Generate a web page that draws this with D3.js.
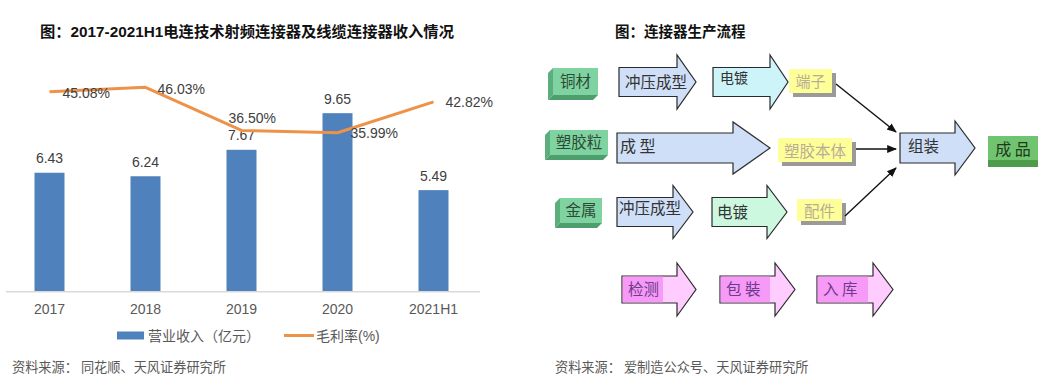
<!DOCTYPE html>
<html><head><meta charset="utf-8">
<script src="https://cdn.jsdelivr.net/npm/d3@7"></script>
<style>
html,body{margin:0;padding:0;background:#fff;}
svg{display:block;}
</style></head>
<body>
<svg id="c" width="1047" height="391"></svg>
<script>
// ---------- Data ----------
const categories = ['2017','2018','2019','2020','2021H1'];
const revenue = [6.43, 6.24, 7.67, 9.65, 5.49];
const margin = [45.08, 46.03, 36.50, 35.99, 42.82];
const marginLabels = ['45.08%','46.03%','36.50%','35.99%','42.82%'];
const legendLabels = ['营业收入（亿元）','毛利率(%)'];
const leftTitle = '图：2017-2021H1电连技术射频连接器及线缆连接器收入情况';
const leftSource = '资料来源：  同花顺、天风证券研究所';
const rightTitle = '图：连接器生产流程';
const rightSource = '资料来源：  爱制造公众号、天风证券研究所';
// flowchart labels
const rawMaterials = ['铜材','塑胶粒','金属'];
const stepRow1 = ['冲压成型','电镀'];
const stepRow2 = ['成 型'];
const stepRow3 = ['冲压成型','电镀'];
const parts = ['端子','塑胶本体','配件'];
const assembly = '组装';
const product = '成 品';
const finalSteps = ['检测','包 裝','入 库'];

const svg = d3.select('#c');
const FONT = '"Liberation Sans","Noto Sans CJK SC",Arial,sans-serif';
const CJK = '"Noto Sans CJK SC","Liberation Sans",sans-serif';

// ---------- Left chart ----------
const x = d3.scaleBand().domain(categories).range([1.5, 481.5]).paddingInner(1 - 30/96).paddingOuter((1 - 30/96)/2);
const yBar = d3.scaleLinear().domain([0, 12]).range([291.7, 69.7]);
const yLine = d3.scaleLinear().domain([0, 50]).range([295.4, 69.4]);
const cx = c => x(c) + x.bandwidth()/2;

svg.append('text').attr('x', 40).attr('y', 37).attr('font-family', FONT)
  .attr('font-weight', 'bold').attr('font-size', 15.3).attr('fill', '#111').text(leftTitle);

const g = svg.append('g');
g.selectAll('rect.bar').data(categories).join('rect').attr('class','bar')
  .attr('x', c => x(c)).attr('width', x.bandwidth())
  .attr('y', (c,i) => yBar(revenue[i])).attr('height', (c,i) => yBar(0) - yBar(revenue[i]))
  .attr('fill', '#4f81bd');

// axis
const xAxis = d3.axisBottom(x).tickSize(0).tickPadding(12);
const ax = g.append('g').attr('transform', `translate(0,${yBar(0)})`).call(xAxis);
ax.select('.domain').attr('d', `M6,0H480`).attr('stroke', '#d9d9d9').attr('stroke-width', 1.5);
ax.selectAll('text').attr('font-family', FONT).attr('font-size', 14).attr('fill', '#595959');

// bar labels
g.selectAll('text.bl').data(categories).join('text').attr('class','bl')
  .attr('x', c => cx(c)).attr('y', (c,i) => yBar(revenue[i]) - 9.5)
  .attr('text-anchor', 'middle').attr('font-family', FONT).attr('font-size', 14)
  .attr('fill', '#404040').text((c,i) => revenue[i].toFixed(2));

// line
const line = d3.line().x((d,i) => cx(categories[i])).y(d => yLine(d));
g.append('path').datum(margin).attr('d', line).attr('fill', 'none')
  .attr('stroke', '#ee9248').attr('stroke-width', 3).attr('stroke-linejoin', 'round');

const lineLabelOffsets = [[13,1.5],[12,1.7],[-13,-12.4],[13,0.6],[12,0.6]];
g.selectAll('text.ll').data(categories).join('text').attr('class','ll')
  .attr('x', (c,i) => cx(c) + lineLabelOffsets[i][0])
  .attr('y', (c,i) => yLine(margin[i]) + lineLabelOffsets[i][1])
  .attr('dy', '0.36em').attr('font-family', FONT).attr('font-size', 14)
  .attr('fill', '#404040').text((c,i) => marginLabels[i]);

// legend
const lg = svg.append('g');
lg.append('rect').attr('x', 117).attr('y', 331.5).attr('width', 27).attr('height', 8).attr('fill', '#4f81bd');
lg.append('text').attr('x', 148).attr('y', 335.5).attr('dy', '0.36em').attr('font-family', FONT)
  .attr('font-size', 14).attr('fill', '#595959').text(legendLabels[0]);
lg.append('line').attr('x1', 284).attr('x2', 314).attr('y1', 335.5).attr('y2', 335.5)
  .attr('stroke', '#ee9248').attr('stroke-width', 3);
lg.append('text').attr('x', 316).attr('y', 335.5).attr('dy', '0.36em').attr('font-family', FONT)
  .attr('font-size', 14).attr('fill', '#595959').text(legendLabels[1]);

svg.append('text').attr('x', 12).attr('y', 367).attr('dy', '0.36em').attr('font-family', CJK)
  .attr('font-size', 13.2).attr('fill', '#595959').text(leftSource);

// ---------- Right flowchart ----------
svg.append('text').attr('x', 615).attr('y', 37).attr('font-family', CJK)
  .attr('font-weight', 'bold').attr('font-size', 14.5).attr('fill', '#111').text(rightTitle);
svg.append('text').attr('x', 555).attr('y', 367).attr('dy', '0.36em').attr('font-family', CJK)
  .attr('font-size', 13.2).attr('fill', '#595959').text(rightSource);

const f = svg.append('g');
const defs = svg.append('defs');
defs.append('marker').attr('id','ah').attr('viewBox','0 0 10 10').attr('refX',9).attr('refY',5)
  .attr('markerWidth',7).attr('markerHeight',7).attr('orient','auto')
  .append('path').attr('d','M0,1 L10,5 L0,9 z').attr('fill','#111');

function blockArrow(x0, x1, x2, cy, hb, hh, fill, label, opts={}) {
  const pts = [[x0,cy-hb],[x1,cy-hb],[x1,cy-hh],[x2,cy],[x1,cy+hh],[x1,cy+hb],[x0,cy+hb]];
  f.append('polygon').attr('points', pts.map(p=>p.join(',')).join(' '))
    .attr('fill', fill).attr('stroke', '#2a2a2a').attr('stroke-width', 1.2).attr('stroke-linejoin','miter');
  if (opts.band) {
    f.append('rect').attr('x', x0+0.6).attr('y', cy-hb+0.6).attr('width', opts.band - x0 - 0.6)
      .attr('height', 2*hb-1.2).attr('fill', opts.bandFill);
  }
  f.append('text').attr('x', x0 + (opts.tx || 6)).attr('y', cy + (opts.ty || 0)).attr('dy','0.36em')
    .attr('font-family', CJK).attr('font-size', opts.fs || 15.5).attr('fill', opts.color || '#333')
    .text(label);
}

function greenBox(x0, y0, x1, y1, d, label, fs) {
  f.append('polygon').attr('points', `${x0+d},${y0} ${x0},${y0+d} ${x0},${y1} ${x0+d},${y1-d}`).attr('fill', '#5cae7c');
  f.append('polygon').attr('points', `${x0},${y1} ${x0+d},${y1-d} ${x1},${y1-d} ${x1-d},${y1}`).attr('fill', '#4e9d6c');
  f.append('rect').attr('x', x0+d).attr('y', y0).attr('width', x1-x0-d).attr('height', y1-y0-d).attr('fill', '#7fd3a0');
  f.append('text').attr('x', (x0+d+x1)/2).attr('y', (y0+y1-d)/2).attr('dy','0.36em').attr('text-anchor','middle')
    .attr('font-family', CJK).attr('font-size', fs).attr('fill', '#2d4a36').text(label);
}

function yellowBox(x0, y0, x1, y1, label, fs) {
  f.append('rect').attr('x', x0+4).attr('y', y0+4).attr('width', x1-x0).attr('height', y1-y0).attr('fill', '#9a9a9a');
  f.append('rect').attr('x', x0).attr('y', y0).attr('width', x1-x0).attr('height', y1-y0).attr('fill', '#ffff99');
  f.append('text').attr('x', (x0+x1)/2).attr('y', (y0+y1)/2+1).attr('dy','0.36em').attr('text-anchor','middle')
    .attr('font-family', CJK).attr('font-size', fs).attr('fill', '#b8ad95').text(label);
}

// row 1
greenBox(548, 68, 598, 100, 5, rawMaterials[0], 15.5);
blockArrow(619, 677, 696, 82, 14.5, 27, '#cfdff7', stepRow1[0], {tx:6, fs:15.5});
blockArrow(713, 770, 788, 82, 14.5, 27, '#ccf4f9', stepRow1[1], {tx:7, ty:-4, fs:14});
yellowBox(789, 69, 832, 93, parts[0], 15);
// row 2
greenBox(545, 130, 608, 160, 5, rawMaterials[1], 15.5);
blockArrow(617, 733, 770, 148, 15, 26, '#cfdff7', stepRow2[0], {tx:3, ty:-2, fs:16});
yellowBox(778, 138, 852, 162, parts[1], 15.5);
blockArrow(900, 955, 975, 148, 15, 27, '#cfdff7', assembly, {tx:8, ty:-2, fs:15.5});
// 成品
f.append('rect').attr('x', 988).attr('y', 155).attr('width', 50).attr('height', 12).attr('fill', '#4c9c4c');
f.append('rect').attr('x', 988).attr('y', 136).attr('width', 50).attr('height', 24).attr('fill', '#70c470');
f.append('text').attr('x', 1013).attr('y', 149).attr('dy','0.36em').attr('text-anchor','middle')
  .attr('font-family', CJK).attr('font-size', 16).attr('fill', '#1d3a1d').text(product);
// row 3
greenBox(555, 198, 602, 228, 5, rawMaterials[2], 15.5);
blockArrow(617, 673, 693, 212, 14.5, 26.5, '#cfdff7', stepRow3[0], {tx:2, ty:-4, fs:15.5});
blockArrow(712, 767, 787, 212, 14.5, 26.5, '#cdf8e0', stepRow3[1], {tx:5, fs:15.5});
yellowBox(797, 199, 842, 221, parts[2], 15.5);
// connectors
f.append('line').attr('x1',836).attr('y1',84).attr('x2',896).attr('y2',132)
  .attr('stroke','#111').attr('stroke-width',1.4).attr('marker-end','url(#ah)');
f.append('line').attr('x1',856).attr('y1',149).attr('x2',896).attr('y2',149)
  .attr('stroke','#111').attr('stroke-width',1.4).attr('marker-end','url(#ah)');
f.append('line').attr('x1',845).attr('y1',216).attr('x2',896).attr('y2',168)
  .attr('stroke','#111').attr('stroke-width',1.4).attr('marker-end','url(#ah)');
// row 4
const pinkArrows = [[622,677,696,663],[720,775,795,770],[817,873,893,868]];
finalSteps.forEach((lab, i) => {
  const a = pinkArrows[i];
  blockArrow(a[0], a[1], a[2], 289.5, 13.5, 26.5, '#ffccff', lab,
    {band: a[3], bandFill: '#f79af7', tx:6, fs:15.5, color:'#6d3b8a'});
});
</script>
</body></html>
